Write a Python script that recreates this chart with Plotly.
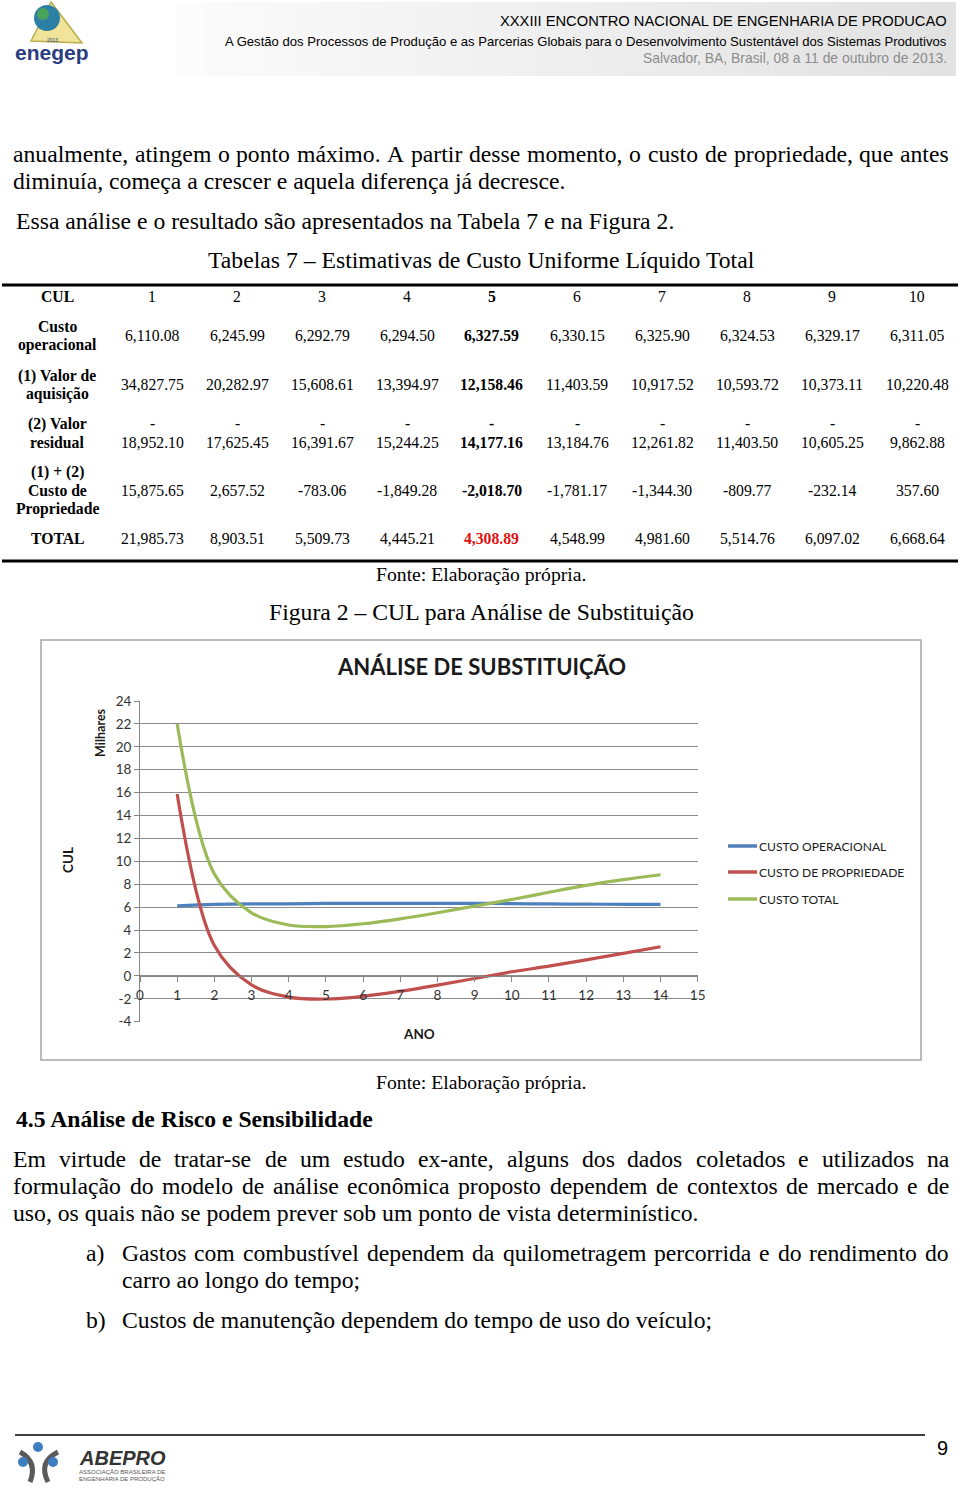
import unicodedata
import plotly.graph_objects as go

W, H = 960, 1487
SERIF = "Liberation Serif, Times New Roman, serif"
SANS = "Liberation Sans, Arial, sans-serif"
CHART = "Lato, Calibri, sans-serif"

# ---------------- data (table 7) ----------------
anos = [1, 2, 3, 4, 5, 6, 7, 8, 9, 10]
custo_operacional = [6110.08, 6245.99, 6292.79, 6294.50, 6327.59, 6330.15, 6325.90, 6324.53, 6329.17, 6311.05]
valor_aquisicao = [34827.75, 20282.97, 15608.61, 13394.97, 12158.46, 11403.59, 10917.52, 10593.72, 10373.11, 10220.48]
valor_residual = [-18952.10, -17625.45, -16391.67, -15244.25, -14177.16, -13184.76, -12261.82, -11403.50, -10605.25, -9862.88]
custo_propriedade = [15875.65, 2657.52, -783.06, -1849.28, -2018.70, -1781.17, -1344.30, -809.77, -232.14, 357.60]
custo_total = [21985.73, 8903.51, 5509.73, 4445.21, 4308.89, 4548.99, 4981.60, 5514.76, 6097.02, 6668.64]

# chart continues to year 14
chart_anos = [1, 2, 3, 4, 5, 6, 7, 8, 9, 10, 11, 12, 13, 14]
ext_operacional = [6280, 6260, 6250, 6240]
ext_propriedade = [850, 1400, 1970, 2540]
ext_total = [7300, 7900, 8400, 8830]

serie_nomes = ["CUSTO OPERACIONAL", "CUSTO DE PROPRIEDADE", "CUSTO TOTAL"]
serie_cores = ["#4F81BD", "#C0504D", "#9BBB59"]
y_ticks = [-4, -2, 0, 2, 4, 6, 8, 10, 12, 14, 16, 18, 20, 22, 24]
x_ticks = [0, 1, 2, 3, 4, 5, 6, 7, 8, 9, 10, 11, 12, 13, 14, 15]

op_k = [v / 1000 for v in custo_operacional + ext_operacional]
pr_k = [v / 1000 for v in custo_propriedade + ext_propriedade]
tot_k = [v / 1000 for v in custo_total + ext_total]

# ---------------- helpers ----------------
ann = []
shapes = []


def px(x):
    return x / W


def py(y):
    return 1 - y / H


def text(x, y, s, size, family=SERIF, color="black", xa="left", ya="middle", angle=0):
    ann.append(dict(x=px(x), y=py(y), xref="paper", yref="paper", text=s, showarrow=False,
                    xanchor=xa, yanchor=ya, textangle=angle, borderpad=0,
                    font=dict(family=family, size=size, color=color)))


def line(x0, y0, x1, y1, color="black", width=1):
    shapes.append(dict(type="line", xref="paper", yref="paper", x0=px(x0), y0=py(y0),
                       x1=px(x1), y1=py(y1), line=dict(color=color, width=width)))


def rect(x0, y0, x1, y1, fill=None, color=None, width=0):
    shapes.append(dict(type="rect", xref="paper", yref="paper", x0=px(x0), y0=py(y0),
                       x1=px(x1), y1=py(y1), fillcolor=fill or "rgba(0,0,0,0)",
                       line=dict(color=color or "rgba(0,0,0,0)", width=width), layer="below"))


def circle(cx, cy, r, fill):
    shapes.append(dict(type="circle", xref="paper", yref="paper", x0=px(cx - r), x1=px(cx + r),
                       y0=py(cy + r), y1=py(cy - r), fillcolor=fill, line=dict(width=0)))


TNR = {" ": 250, ",": 250, ".": 250, "-": 333, ":": 278, ";": 278, "(": 333, ")": 333, "–": 500}
for c, w in zip("ABCDEFGHIJKLMNOPQRSTUVWXYZ",
                [722, 667, 667, 722, 611, 556, 722, 722, 333, 389, 722, 611, 889, 722, 722, 556, 722, 667,
                 556, 611, 722, 722, 944, 722, 722, 611]):
    TNR[c] = w
for c, w in zip("abcdefghijklmnopqrstuvwxyz",
                [444, 500, 444, 500, 444, 333, 500, 500, 278, 278, 500, 278, 778, 500, 500, 500, 500, 333,
                 389, 278, 500, 500, 722, 500, 500, 444]):
    TNR[c] = w


def tw(s, size):
    tot = 0
    for c in s:
        base = unicodedata.normalize("NFD", c)[0]
        tot += TNR.get(base, 500)
    return tot * size / 1000


def justify(x0, x1, y, s, size):
    words = s.split(" ")
    widths = [tw(w, size) for w in words]
    gap = (x1 - x0 - sum(widths)) / (len(words) - 1)
    x = x0
    for w, wd in zip(words, widths):
        text(x, y, w, size)
        x += wd + gap


BODY = 23.7

# ---------------- header ----------------
n = 26
for i in range(n):
    g = int(252 - 26 * i / (n - 1))
    rect(175 + i * 30, 2, 175 + (i + 1) * 30 + 1, 76, fill=f"rgb({g},{g},{g})")
# enegep logo
shapes.append(dict(type="path", xref="paper", yref="paper",
                   path=f"M {px(31)},{py(41)} L {px(51)},{py(2)} L {px(82)},{py(43)} Z",
                   fillcolor="#efe49a", line=dict(color="#b9ad4c", width=1.5)))
circle(47, 18, 13, "#2c7fa5")
circle(43, 14, 6, "#4aa35a")
text(52, 52, "<b>enegep</b>", 21, family=SANS, color="#2b3c80", xa="center")
text(52, 40, "2013", 5, family=SANS, color="#2b3c80", xa="center")

text(948, 21, "XXXIII ENCONTRO NACIONAL DE ENGENHARIA DE PRODUCAO", 14.7, family=SANS, xa="right")
text(948, 41, "A Gestão dos Processos de Produção e as Parcerias Globais para o Desenvolvimento "
              "Sustentável dos Sistemas Produtivos", 13.1, family=SANS, xa="right")
text(948, 58, "Salvador, BA, Brasil, 08 a 11 de outubro de 2013.", 13.9, family=SANS, color="#8c8c8c", xa="right")

# ---------------- body text ----------------
justify(12, 948, 154, "anualmente, atingem o ponto máximo. A partir desse momento, o custo de propriedade, que antes", BODY)
text(12, 181, "diminuía, começa a crescer e aquela diferença já decresce.", BODY)
text(15, 221, "Essa análise e o resultado são apresentados na Tabela 7 e na Figura 2.", BODY)
text(481, 260, "Tabelas 7 – Estimativas de Custo Uniforme Líquido Total", BODY, xa="center")

# ---------------- table ----------------
TS = 15.7
line(2, 285, 958, 285, width=3)
line(2, 561, 958, 561, width=3)
col_x = [152 + 85 * i for i in range(10)]


def fmt(v):
    return f"{v:,.2f}"


text(57, 297, "<b>CUL</b>", TS, xa="center")
for i, a in enumerate(anos):
    s = f"<b>{a}</b>" if a == 5 else str(a)
    text(col_x[i], 297, s, TS, xa="center")

rows = [
    (["Custo", "operacional"], [327, 345], custo_operacional, 336),
    (["(1) Valor de", "aquisição"], [376, 394], valor_aquisicao, 384),
    (["(2) Valor", "residual"], [424, 442], valor_residual, 442),
    (["(1) + (2)", "Custo de", "Propriedade"], [472, 490, 509], custo_propriedade, 490),
    (["TOTAL"], [539], custo_total, 539),
]
for labels, ly, vals, vy in rows:
    for lab, yy in zip(labels, ly):
        text(57, yy, f"<b>{lab}</b>", TS, xa="center")
    for i, v in enumerate(vals):
        if vals is valor_residual:
            s = fmt(-v)
            text(col_x[i], 424, "<b>-</b>" if i == 4 else "-", TS, xa="center")
        else:
            s = fmt(v)
        color = "black"
        if i == 4:
            s = f"<b>{s}</b>"
            if vals is custo_total:
                color = "#e01010"
        text(col_x[i], vy, s, TS, xa="center", color=color)

text(481, 574, "Fonte: Elaboração própria.", 19.7, xa="center")
text(481, 612, "Figura 2 – CUL para Análise de Substituição", BODY, xa="center")

# ---------------- chart ----------------
rect(41, 640, 921, 1060, color="#a6a6a6", width=1.5)
text(481, 666, "<b>ANÁLISE DE SUBSTITUIÇÃO</b>", 22, family=CHART, color="#1a1a1a", xa="center")
text(100, 733, "<b>Milhares</b>", 12.5, family=CHART, color="#1a1a1a", xa="center", angle=-90)
text(68, 860, "<b>CUL</b>", 13.5, family=CHART, color="#1a1a1a", xa="center", angle=-90)
text(419, 1034, "<b>ANO</b>", 13.5, family=CHART, color="#1a1a1a", xa="center")

fig = go.Figure()
for nome, cor, ys in zip(serie_nomes, serie_cores, [op_k, pr_k, tot_k]):
    fig.add_trace(go.Scatter(x=chart_anos, y=ys, mode="lines", name=nome, showlegend=False,
                             line=dict(color=cor, width=3.2, shape="spline", smoothing=1)))

leg_y = [846, 872, 899]
for nome, cor, yy in zip(serie_nomes, serie_cores, leg_y):
    line(728, yy, 757, yy, color=cor, width=3.5)
    text(758, yy, nome, 12.1, family=CHART, color="#1a1a1a")

# ---------------- text after chart ----------------
text(481, 1082, "Fonte: Elaboração própria.", 19.7, xa="center")
text(15, 1119, "<b>4.5 Análise de Risco e Sensibilidade</b>", BODY)
justify(12, 948, 1159, "Em virtude de tratar-se de um estudo ex-ante, alguns dos dados coletados e utilizados na", BODY)
justify(12, 948, 1186, "formulação do modelo de análise econômica proposto dependem de contextos de mercado e de", BODY)
text(12, 1213, "uso, os quais não se podem prever sob um ponto de vista determinístico.", BODY)
text(85, 1253, "a)", BODY)
justify(121, 948, 1253, "Gastos com combustível dependem da quilometragem percorrida e do rendimento do", BODY)
text(121, 1280, "carro ao longo do tempo;", BODY)
text(85, 1320, "b)", BODY)
text(121, 1320, "Custos de manutenção dependem do tempo de uso do veículo;", BODY)

# ---------------- footer ----------------
line(15, 1435, 925, 1435, width=1.5)
text(942, 1448, "9", 20, family=SANS, xa="center")
shapes.append(dict(type="path", xref="paper", yref="paper",
                   path=f"M {px(20)},{py(1452)} Q {px(38)},{py(1462)} {px(30)},{py(1482)} "
                        f"M {px(58)},{py(1452)} Q {px(38)},{py(1462)} {px(48)},{py(1482)}",
                   line=dict(color="#5a5a5a", width=5)))
circle(38, 1447, 5, "#3d7fc0")
circle(23, 1462, 5, "#3d7fc0")
circle(53, 1462, 5, "#3d7fc0")
text(78, 1458, "<b><i>ABEPRO</i></b>", 20, family=SANS, color="#333333")
text(78, 1472, "ASSOCIAÇÃO BRASILEIRA DE", 6, family=SANS, color="#555555")
text(78, 1479, "ENGENHARIA DE PRODUÇÃO", 6, family=SANS, color="#555555")

fig.update_layout(
    width=W, height=H, margin=dict(l=0, r=0, t=0, b=0, pad=0, autoexpand=False),
    paper_bgcolor="white", plot_bgcolor="white", showlegend=False,
    annotations=ann, shapes=shapes,
    xaxis=dict(range=[0, 15], domain=[px(140), px(697.7)], anchor="free", position=py(976),
               tickvals=x_ticks, ticktext=[str(v) for v in x_ticks],
               ticks="outside", ticklen=5, tickcolor="#868686", automargin=False,
               showline=True, linecolor="#868686", linewidth=1, showgrid=False, zeroline=False,
               tickfont=dict(family=CHART, size=13.5, color="#333333"), ticklabelstandoff=2),
    yaxis=dict(range=[-4, 24], domain=[py(1021.7), py(701)], tickvals=y_ticks,
               ticktext=[str(v) for v in y_ticks], automargin=False,
               ticks="outside", ticklen=5, tickcolor="#868686",
               showline=True, linecolor="#868686", linewidth=1,
               showgrid=True, gridcolor="#8c8c8c", gridwidth=1, zeroline=False,
               tickfont=dict(family=CHART, size=13.5, color="#333333")),
)

fig.write_html("out.html", config={"displayModeBar": False},
               post_script="document.body.style.margin='0';document.body.style.overflow='hidden';")
